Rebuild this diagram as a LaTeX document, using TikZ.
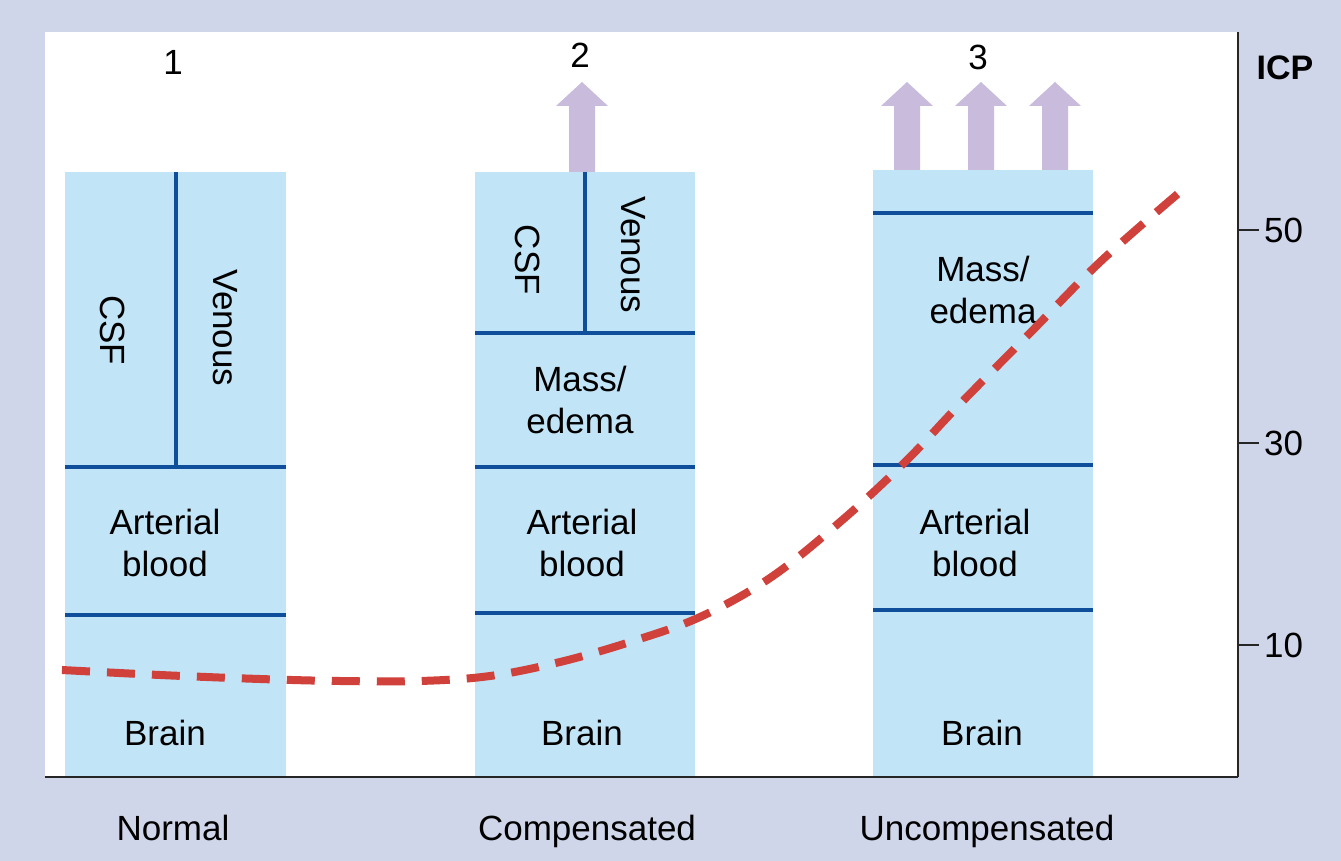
\documentclass[tikz,border=0pt]{standalone}
\usepackage{fontspec}
\setmainfont{Liberation Sans}
\usepackage{xcolor}
\definecolor{bgLav}{HTML}{D0D6E9}
\definecolor{colBlue}{HTML}{C2E4F7}
\definecolor{lineBlue}{HTML}{0E4E9A}
\definecolor{arrLav}{HTML}{C8BBDC}
\definecolor{icpRed}{HTML}{D0413B}
\usetikzlibrary{calc}

\begin{document}
\begin{tikzpicture}[
  x=1pt, y=-1pt,
  every node/.style={font=\fontsize{35}{42}\selectfont, align=center, inner sep=0pt},
  column/.style={fill=colBlue},
  divider/.style={draw=lineBlue, line width=3.2pt},
  rise/.style={fill=arrLav},
  axis/.style={draw=black!85, line width=2.5pt},
  icp/.style={draw=icpRed, line width=8pt, dash pattern=on 28pt off 17pt}
]
% background and plot area
\useasboundingbox (0,0) rectangle (1341,861);
\fill[bgLav] (0,0) rectangle (1341,861);
\fill[white] (45,32) rectangle (1238,777);

% columns
\fill[column] (65,172) rectangle (286,777);
\fill[column] (475,172) rectangle (695,777);
\fill[column] (873,170) rectangle (1093,777);

% rising pressure arrows
\foreach \ax/\ay in {582/172, 907/170, 981/170, 1055/170}
  \fill[rise] (\ax-13,\ay) -- (\ax-13,106) -- (\ax-26,106) -- (\ax,82)
    -- (\ax+26,106) -- (\ax+13,106) -- (\ax+13,\ay) -- cycle;

% compartment dividers
\draw[divider] (176,172) -- (176,467);
\draw[divider] (65,467) -- (286,467);
\draw[divider] (65,615) -- (286,615);
\draw[divider] (585,172) -- (585,333);
\draw[divider] (475,333) -- (695,333);
\draw[divider] (475,467) -- (695,467);
\draw[divider] (475,613) -- (695,613);
\draw[divider] (873,213) -- (1093,213);
\draw[divider] (873,465) -- (1093,465);
\draw[divider] (873,610) -- (1093,610);

% labels, column 1
\node (n1) at (173,62) {1};
\node[rotate=-90] (csf1) at (113,330) {CSF};
\node[rotate=-90] (ven1) at (225,328) {Venous};
\node (art1) at (165,543) {Arterial\\blood};
\node (brn1) at (165,733) {Brain};
\node[anchor=base] (normal) at (173,840) {Normal};

% labels, column 2
\node (n2) at (580,55) {2};
\node[rotate=-90] (csf2) at (528,260) {CSF};
\node[rotate=-90] (ven2) at (633,255) {Venous};
\node (mass2) at (580,400) {Mass/\\edema};
\node (art2) at (582,543) {Arterial\\blood};
\node (brn2) at (582,733) {Brain};
\node[anchor=base] (comp) at (587,840) {Compensated};

% labels, column 3
\node (n3) at (978,57) {3};
\node (mass3) at (983,290) {Mass/\\edema};
\node (art3) at (975,543) {Arterial\\blood};
\node (brn3) at (982,733) {Brain};
\node[anchor=base] (uncomp) at (987,840) {Uncompensated};

% ICP axis
\draw[axis] (45,777) -- (1238,777);
\draw[axis] (1238,32) -- (1238,777);
\node[font=\fontsize{34}{40}\selectfont\bfseries] (icp) at (1285,68) {ICP};
\foreach \tv/\ty in {50/230, 30/443, 10/645} {
  \draw[axis] (1238,\ty) -- (1259,\ty);
  \node[anchor=west] (t\tv) at (1264,\ty) {\tv};
}

% pressure curve
\draw[icp] plot[smooth, tension=0.6] coordinates {
  (62,670) (160,675) (260,679) (340,681) (420,681) (490,676) (560,662)
  (630,642) (700,617) (770,578) (840,522) (905,462) (960,404)
  (1030,333) (1100,262) (1180,192)};
\end{tikzpicture}
\end{document}
